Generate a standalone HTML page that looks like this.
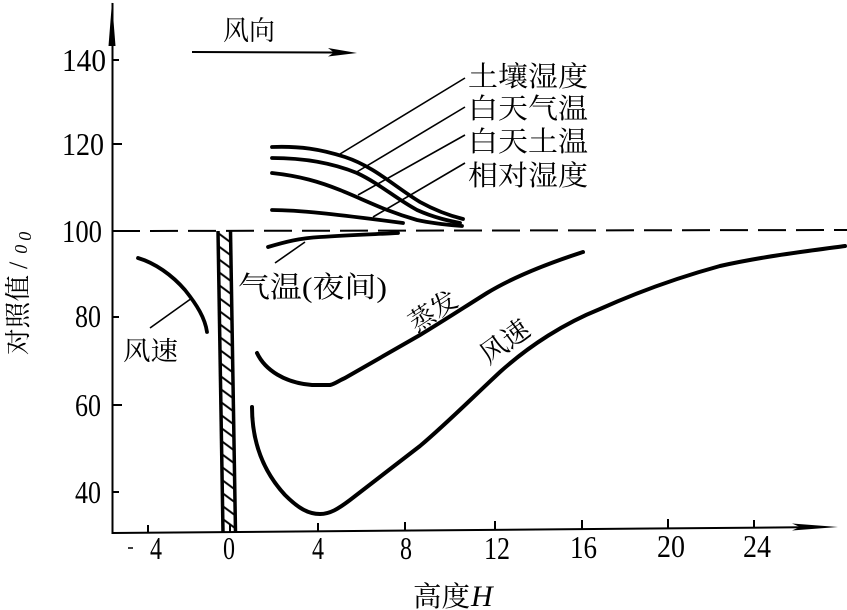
<!DOCTYPE html>
<html>
<head>
<meta charset="utf-8">
<style>
  html,body{margin:0;padding:0;background:#fff;}
  svg{display:block;}
  text{font-family:"Liberation Serif","Noto Serif CJK SC",serif;fill:#000;}
</style>
</head>
<body>
<svg width="847" height="610" viewBox="0 0 847 610" xmlns="http://www.w3.org/2000/svg">
  <defs>
    <pattern id="hatch" width="14" height="13" patternUnits="userSpaceOnUse">
      <line x1="0" y1="2" x2="12" y2="11" stroke="#000" stroke-width="2"/>
    </pattern>
  </defs>

  <!-- Y axis -->
  <line x1="112.5" y1="3" x2="112.5" y2="534" stroke="#000" stroke-width="2"/>
  <polygon points="112,2 108.5,46 115.5,46" fill="#000"/>
  <!-- Y ticks -->
  <g stroke="#000" stroke-width="2">
    <line x1="112" y1="60" x2="119" y2="60"/>
    <line x1="112" y1="144" x2="122" y2="144"/>
    <line x1="112" y1="317" x2="119" y2="317"/>
    <line x1="112" y1="405" x2="122" y2="405"/>
    <line x1="112" y1="492" x2="119" y2="492"/>
  </g>
  <!-- Y tick labels -->
  <g font-size="32">
    <text x="62" y="71" textLength="44" lengthAdjust="spacingAndGlyphs">140</text>
    <text x="62" y="155" textLength="42" lengthAdjust="spacingAndGlyphs">120</text>
    <text x="62" y="242" textLength="40" lengthAdjust="spacingAndGlyphs">100</text>
    <text x="75" y="327" textLength="26" lengthAdjust="spacingAndGlyphs">80</text>
    <text x="75" y="416" textLength="26" lengthAdjust="spacingAndGlyphs">60</text>
    <text x="75" y="503" textLength="26" lengthAdjust="spacingAndGlyphs">40</text>
  </g>

  <!-- X axis -->
  <line x1="112" y1="533" x2="800" y2="527.3" stroke="#000" stroke-width="2"/>
  <polygon points="792,523.5 838,527 792,530.5 800,527" fill="#000"/>
  <g stroke="#000" stroke-width="2">
    <line x1="148" y1="533" x2="148" y2="525"/>
    <line x1="230" y1="532" x2="230" y2="524"/>
    <line x1="318" y1="531.3" x2="318" y2="523"/>
    <line x1="405" y1="530.6" x2="405" y2="522"/>
    <line x1="495" y1="529.8" x2="495" y2="521"/>
    <line x1="582" y1="529.1" x2="582" y2="520"/>
    <line x1="668" y1="528.4" x2="668" y2="519"/>
    <line x1="754" y1="527.7" x2="754" y2="520"/>
  </g>
  <!-- X tick labels -->
  <g font-size="32">
    <line x1="128" y1="548" x2="133" y2="548" stroke="#000" stroke-width="1.5"/>
    <text x="150" y="559" textLength="12" lengthAdjust="spacingAndGlyphs">4</text>
    <text x="223" y="559" textLength="12" lengthAdjust="spacingAndGlyphs">0</text>
    <text x="312" y="559" textLength="12" lengthAdjust="spacingAndGlyphs">4</text>
    <text x="400" y="559" textLength="12" lengthAdjust="spacingAndGlyphs">8</text>
    <text x="484" y="559" textLength="26" lengthAdjust="spacingAndGlyphs">12</text>
    <text x="570" y="558" textLength="27" lengthAdjust="spacingAndGlyphs">16</text>
    <text x="657" y="557" textLength="28" lengthAdjust="spacingAndGlyphs">20</text>
    <text x="743" y="557" textLength="28" lengthAdjust="spacingAndGlyphs">24</text>
  </g>

  <!-- X axis title -->
  <text x="413" y="606" font-size="28"><tspan textLength="57" lengthAdjust="spacingAndGlyphs">高度</tspan><tspan font-style="italic" font-size="30" dx="1">H</tspan></text>

  <!-- Y axis title -->
  <text transform="translate(27,355) rotate(-90)" font-size="26"><tspan textLength="80" lengthAdjust="spacingAndGlyphs">对照值</tspan><tspan dx="6">/</tspan><tspan font-style="italic" font-size="18" dx="8">0</tspan><tspan font-style="italic" font-size="18" dx="4" dy="4">0</tspan></text>

  <!-- Wind direction -->
  <text x="223" y="40" font-size="27" textLength="52" lengthAdjust="spacingAndGlyphs">风向</text>
  <line x1="192" y1="52" x2="335" y2="52.5" stroke="#000" stroke-width="2"/>
  <polygon points="328,48 357,53 328,56.5 334,52.5" fill="#000"/>

  <!-- dashed 100 line -->
  <line x1="112" y1="231" x2="847" y2="230" stroke="#000" stroke-width="2" stroke-dasharray="28 10"/>

  <!-- hatched barrier -->
  <g transform="translate(218,231) skewX(0.95)">
    <rect x="1" y="0" width="11" height="302" fill="url(#hatch)"/>
    <line x1="0" y1="0" x2="0" y2="302" stroke="#000" stroke-width="3.5"/>
    <line x1="12.5" y1="0" x2="12.5" y2="302" stroke="#000" stroke-width="3.5"/>
  </g>

  <!-- curves -->
  <g fill="none" stroke="#000" stroke-linecap="round" stroke-linejoin="round">
    <!-- daytime family -->
    <path stroke-width="3.8" d="M272,147 C300,146 320,149 345,157 C375,167 395,187 420,202 C440,213 455,217 463,219"/>
    <path stroke-width="3.8" d="M272,158 C300,158 330,162 357,173 C380,184 395,198 417,210 C435,218 450,221 460,223"/>
    <path stroke-width="3.8" d="M272,173 C300,176 320,182 340,190 C365,200 385,211 417,220 C435,224 450,225 462,226"/>
    <path stroke-width="3.8" d="M272,210 C300,210 340,215 380,220 L403,223"/>
    <!-- night air temperature -->
    <path stroke-width="3.8" d="M268,247 C285,242 300,238 320,237 C350,235 380,234 398,233"/>
    <!-- left wind speed -->
    <path stroke-width="3.8" d="M138,258 C155,263 172,275 185,290 C197,305 205,318 207,332"/>
    <!-- evaporation -->
    <path stroke-width="4" d="M257,353 C265,370 285,383 312,385 L330,385 C335,384 338,381 345,378 L420,335 C440,323 460,310 487,293 C510,279 540,266 583,252"/>
    <!-- wind speed right -->
    <path stroke-width="4" d="M252,407 C252,440 262,470 285,495 C298,508 308,514 320,514 C330,514 338,509 350,500 L420,446 C445,425 470,400 500,372 C530,345 565,323 600,309 C640,291 680,277 720,266 C760,257 800,252 845,246"/>
  </g>

  <!-- leader lines -->
  <g stroke="#000" stroke-width="1.6" fill="none">
    <line x1="465" y1="78" x2="340" y2="154"/>
    <line x1="465" y1="107" x2="355" y2="173"/>
    <line x1="465" y1="135" x2="358" y2="195"/>
    <line x1="465" y1="163" x2="373" y2="217"/>
    <line x1="275" y1="263" x2="305" y2="242"/>
    <line x1="150" y1="328" x2="192" y2="298"/>
  </g>

  <!-- legend labels -->
  <g font-size="28">
    <text x="468" y="86" textLength="120" lengthAdjust="spacingAndGlyphs">土壤湿度</text>
    <text x="468" y="118" textLength="120" lengthAdjust="spacingAndGlyphs">白天气温</text>
    <text x="468" y="151" textLength="120" lengthAdjust="spacingAndGlyphs">白天土温</text>
    <text x="468" y="185" textLength="120" lengthAdjust="spacingAndGlyphs">相对湿度</text>
  </g>

  <!-- other labels -->
  <text x="238" y="297" font-size="29" textLength="149" lengthAdjust="spacingAndGlyphs">气温(夜间)</text>
  <text x="123" y="360" font-size="26" textLength="55" lengthAdjust="spacingAndGlyphs">风速</text>
  <text transform="translate(433,311) rotate(-33)" font-size="26" text-anchor="middle" dy="9">蒸发</text>
  <text transform="translate(505,342) rotate(-36)" font-size="27" text-anchor="middle" dy="9">风速</text>
</svg>
</body>
</html>
